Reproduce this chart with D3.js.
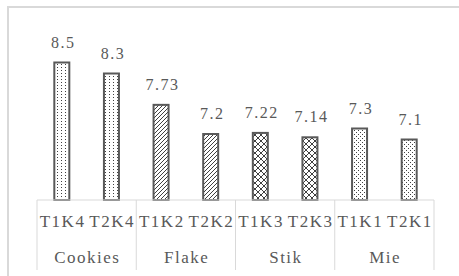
<!DOCTYPE html>
<html>
<head>
<meta charset="utf-8">
<script src="https://cdn.jsdelivr.net/npm/d3@7"></script>
<style>
  body { margin: 0; background: #fff; }
  svg { display: block; }
  text { font-family: "Liberation Serif", "Times New Roman", serif; }
</style>
</head>
<body>
<div id="chart"></div>
<script>
// Donnees
const groups = ["Cookies", "Flake", "Stik", "Mie"];
const codes = ["T1K4", "T2K4", "T1K2", "T2K2", "T1K3", "T2K3", "T1K1", "T2K1"];
const values = [8.5, 8.3, 7.73, 7.2, 7.22, 7.14, 7.3, 7.1];
const groupOf = [0, 0, 1, 1, 2, 2, 3, 3];

const width = 459;
const height = 276;

const svg = d3.select("#chart")
    .append("svg")
    .attr("width", width)
    .attr("height", height);

// motifs de remplissage
const defs = svg.append("defs");
const ink = "#404040";

const pDots = defs.append("pattern").attr("id", "p0")
    .attr("patternUnits", "userSpaceOnUse").attr("width", 4).attr("height", 3);
pDots.append("rect").attr("width", 4).attr("height", 3).attr("fill", "#fff");
pDots.append("rect").attr("x", 1).attr("y", 1).attr("width", 1).attr("height", 1).attr("fill", ink);

const pHatch = defs.append("pattern").attr("id", "p1")
    .attr("patternUnits", "userSpaceOnUse").attr("width", 4).attr("height", 4);
pHatch.append("rect").attr("width", 4).attr("height", 4).attr("fill", "#fff");
pHatch.append("path").attr("d", "M-1,1 L1,-1 M0,4 L4,0 M3,5 L5,3")
    .attr("stroke", ink).attr("stroke-width", 1);

const pCross = defs.append("pattern").attr("id", "p2")
    .attr("patternUnits", "userSpaceOnUse").attr("width", 6).attr("height", 6);
pCross.append("rect").attr("width", 6).attr("height", 6).attr("fill", "#fff");
pCross.append("path").attr("d", "M0,0 L6,6 M6,0 L0,6")
    .attr("stroke", ink).attr("stroke-width", 1);

const pSparse = defs.append("pattern").attr("id", "p3")
    .attr("patternUnits", "userSpaceOnUse").attr("width", 4).attr("height", 4);
pSparse.append("rect").attr("width", 4).attr("height", 4).attr("fill", "#fff");
pSparse.append("rect").attr("x", 0).attr("y", 0).attr("width", 1).attr("height", 1).attr("fill", ink);
pSparse.append("rect").attr("x", 2).attr("y", 2).attr("width", 1).attr("height", 1).attr("fill", ink);

// cadre
svg.append("rect")
    .attr("x", 8).attr("y", 7)
    .attr("width", 470).attr("height", 290)
    .attr("fill", "none")
    .attr("stroke", "#d9d9d9")
    .attr("stroke-width", 2);

// echelles
const x = d3.scaleBand().domain(codes.map((c, i) => i)).range([37, 434]).padding(0);
const xg = d3.scaleBand().domain(groups).range([37, 434]).padding(0);
const y = d3.scaleLinear().domain([6, 9]).range([200, 35]);
const barW = 17;

// barres
svg.selectAll(".bar")
    .data(values)
    .enter()
    .append("rect")
    .attr("x", (d, i) => x(i) + x.bandwidth() / 2 - barW / 2 + 1)
    .attr("y", d => y(d))
    .attr("width", barW - 2)
    .attr("height", d => y(6) - y(d))
    .attr("fill", (d, i) => `url(#p${groupOf[i]})`)
    .attr("stroke", "#595959")
    .attr("stroke-width", 2);

// etiquettes de valeurs
svg.selectAll(".val")
    .data(values)
    .enter()
    .append("text")
    .attr("x", (d, i) => x(i) + x.bandwidth() / 2 + 1.5)
    .attr("y", d => y(d) - 15)
    .attr("text-anchor", "middle")
    .attr("font-size", "16px")
    .attr("letter-spacing", "1.5px")
    .attr("fill", "#595959")
    .text(d => String(d));

// axe
svg.append("line")
    .attr("x1", 37).attr("x2", 434)
    .attr("y1", 200).attr("y2", 200)
    .attr("stroke", "#d9d9d9").attr("stroke-width", 1);

const bounds = groups.map(g => xg(g)).concat([434]);
svg.selectAll(".tick")
    .data(bounds)
    .enter()
    .append("line")
    .attr("x1", d => d).attr("x2", d => d)
    .attr("y1", 200).attr("y2", 270)
    .attr("stroke", "#d9d9d9").attr("stroke-width", 1);

svg.selectAll(".code")
    .data(codes)
    .enter()
    .append("text")
    .attr("x", (d, i) => x(i) + x.bandwidth() / 2 + 0.75)
    .attr("y", 227)
    .attr("text-anchor", "middle")
    .attr("font-size", "17px")
    .attr("letter-spacing", "1.5px")
    .attr("fill", "#595959")
    .text(d => d);

svg.selectAll(".grp")
    .data(groups)
    .enter()
    .append("text")
    .attr("x", d => xg(d) + xg.bandwidth() / 2 + 0.75)
    .attr("y", 263)
    .attr("text-anchor", "middle")
    .attr("font-size", "17px")
    .attr("letter-spacing", "1.5px")
    .attr("fill", "#595959")
    .text(d => d);
</script>
</body>
</html>
